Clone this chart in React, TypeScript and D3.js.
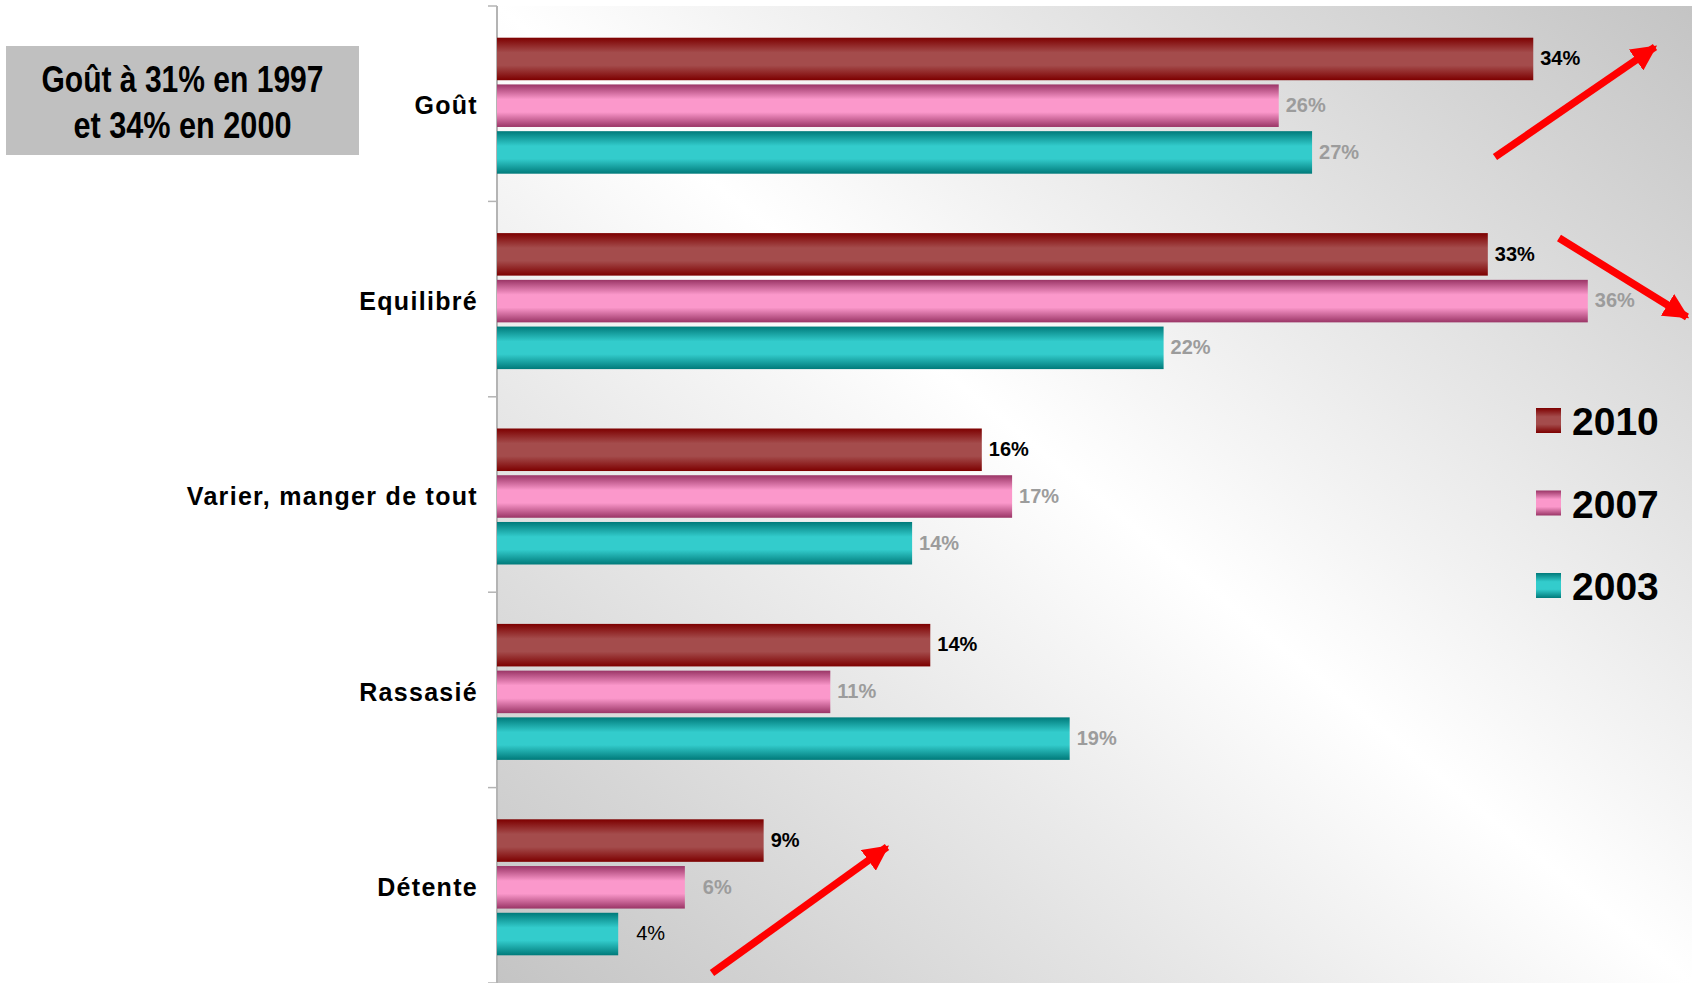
import React from "react";
import * as d3 from "d3";

const categories = ["Goût", "Equilibré", "Varier, manger de tout", "Rassasié", "Détente"];
const seriesNames = ["2010", "2007", "2003"];
const values2010 = [34.2, 32.7, 16.0, 14.3, 8.8];
const values2007 = [25.8, 36.0, 17.0, 11.0, 6.2];
const values2003 = [26.9, 22.0, 13.7, 18.9, 4.0];
const valueLabels2010 = ["34%", "33%", "16%", "14%", "9%"];
const valueLabels2007 = ["26%", "36%", "17%", "11%", "6%"];
const valueLabels2003 = ["27%", "22%", "14%", "19%", "4%"];
const noteLines = ["Goût à 31% en 1997", "et 34% en 2000"];

const W = 1692;
const H = 983;
const axisX = 497;
const plotTop = 6;

const seriesStyle = [
  { id: "g2010", edge: "#7d0000", mid: "#a44c4c", label: "#000000" },
  { id: "g2007", edge: "#9a3566", mid: "#fb98cb", label: "#9c9c9c" },
  { id: "g2003", edge: "#007a7a", mid: "#33cccc", label: "#9c9c9c" },
];

export default function App() {
  const allValues = [values2010, values2007, values2003];
  const allLabels = [valueLabels2010, valueLabels2007, valueLabels2003];
  const x = d3.scaleLinear().domain([0, 40]).range([axisX, axisX + 40 * 30.3]);
  const y = d3.scaleBand<string>().domain(categories).range([plotTop, H]).padding(0);
  const bw = y.bandwidth();
  const groupH = 136;
  const inner = d3
    .scaleBand<string>()
    .domain(seriesNames)
    .range([0, groupH])
    .paddingInner(0.09)
    .paddingOuter(0);

  const arrows = [
    { x1: 1495, y1: 157, x2: 1655, y2: 47 },
    { x1: 1559, y1: 238, x2: 1687, y2: 317 },
    { x1: 712, y1: 973, x2: 887, y2: 847 },
  ];

  const ticks = d3.range(categories.length + 1).map((i) => plotTop + i * bw);

  return (
    <div style={{ position: "absolute", left: 0, top: 0 }}>
      <svg width={W} height={H} style={{ display: "block", fontFamily: "Liberation Sans, Arial, sans-serif" }}>
        <defs>
          <linearGradient id="bg" x1="0" y1="1" x2="1" y2="0">
            <stop offset="0%" stopColor="#c4c4c4" />
            <stop offset="50%" stopColor="#ffffff" />
            <stop offset="100%" stopColor="#c4c4c4" />
          </linearGradient>
          {seriesStyle.map((s) => (
            <linearGradient key={s.id} id={s.id} x1="0" y1="0" x2="0" y2="1">
              <stop offset="0%" stopColor={s.edge} />
              <stop offset="35%" stopColor={s.mid} />
              <stop offset="65%" stopColor={s.mid} />
              <stop offset="100%" stopColor={s.edge} />
            </linearGradient>
          ))}
          <marker id="ah" viewBox="0 0 10 10" refX="9" refY="5" markerWidth="3.4" markerHeight="3.4" orient="auto" markerUnits="strokeWidth">
            <path d="M0,0 L10,5 L0,10 z" fill="#ff0000" />
          </marker>
        </defs>

        <rect x={axisX} y={plotTop} width={W - axisX} height={H - plotTop} fill="url(#bg)" />

        {/* axis */}
        <line x1={axisX} y1={plotTop} x2={axisX} y2={H} stroke="#b4b4b4" strokeWidth={2} />
        {ticks.map((t, i) => (
          <line key={i} x1={axisX - 9} x2={axisX} y1={t} y2={t} stroke="#b4b4b4" strokeWidth={1.5} />
        ))}

        {categories.map((c, ci) => {
          const top = (y(c) as number) + (bw - groupH) / 2 + 2;
          return (
            <g key={c}>
              <text
                x={478}
                y={(y(c) as number) + bw / 2 + 4}
                textAnchor="end"
                dominantBaseline="middle"
                fontSize={25}
                fontWeight="bold"
                letterSpacing={1.3}
                fill="#000"
              >
                {c}
              </text>
              {seriesNames.map((s, si) => {
                const v = allValues[si][ci];
                const by = top + (inner(s) as number);
                const bh = inner.bandwidth();
                const lbl = allLabels[si][ci];
                const small = si > 0 && v < 8;
                const lblColor = si === 2 && v < 8 ? "#000" : seriesStyle[si].label;
                const lblWeight = si === 2 && v < 8 ? "normal" : "bold";
                return (
                  <g key={s}>
                    <rect x={axisX} y={by} width={x(v) - axisX} height={bh} fill={`url(#${seriesStyle[si].id})`} />
                    <text
                      x={x(v) + (small ? 18 : 7)}
                      y={by + bh / 2 + 1}
                      dominantBaseline="middle"
                      fontSize={20}
                      fontWeight={lblWeight}
                      fill={lblColor}
                    >
                      {lbl}
                    </text>
                  </g>
                );
              })}
            </g>
          );
        })}

        {/* legend */}
        {seriesNames.map((s, i) => (
          <g key={s} transform={`translate(1536, ${408 + i * 82.5})`}>
            <rect width={25} height={25} fill={`url(#${seriesStyle[i].id})`} />
            <text x={36} y={13.5} dominantBaseline="central" fontSize={39} fontWeight="bold" fill="#000">
              {s}
            </text>
          </g>
        ))}

        {/* arrows */}
        {arrows.map((a, i) => (
          <line key={i} x1={a.x1} y1={a.y1} x2={a.x2} y2={a.y2} stroke="#ff0000" strokeWidth={7.5} markerEnd="url(#ah)" />
        ))}

        {/* note box */}
        <rect x={6} y={46} width={353} height={109} fill="#c0c0c0" />
        {noteLines.map((l, i) => (
          <text
            key={i}
            x={182.5}
            y={92 + i * 46}
            textAnchor="middle"
            fontSize={37}
            fontWeight="bold"
            fontFamily="Liberation Sans Narrow, Arial Narrow, Liberation Sans, Arial, sans-serif"
            textLength={i === 0 ? 282 : 218}
            lengthAdjust="spacingAndGlyphs"
            fill="#000"
          >
            {l}
          </text>
        ))}
      </svg>
    </div>
  );
}
